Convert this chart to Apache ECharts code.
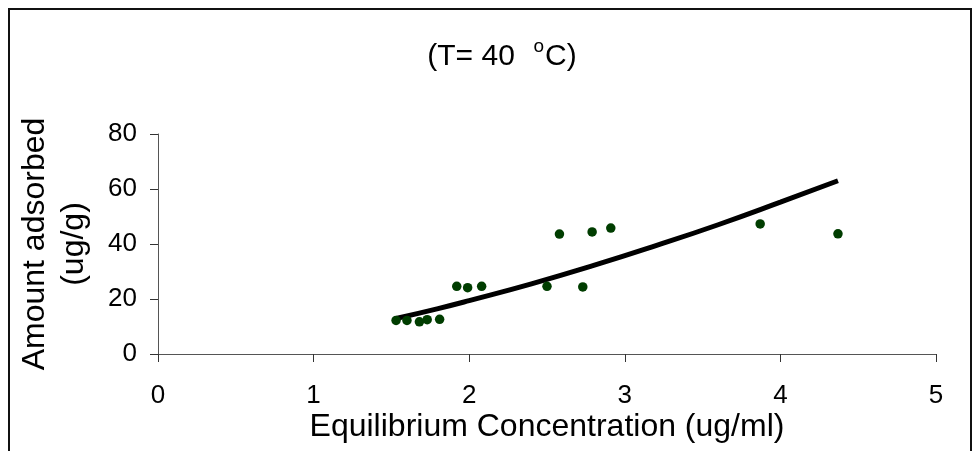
<!DOCTYPE html>
<html>
<head>
<meta charset="utf-8">
<script src="https://cdn.jsdelivr.net/npm/echarts@6/dist/echarts.min.js"></script>
<style>
  html, body { margin: 0; padding: 0; background: #fff; }
  #chart { width: 974px; height: 451px; }
</style>
</head>
<body>
<div id="chart"></div>
<script>
// measured points (Ce, amount adsorbed)
var ceValues = [1.53, 1.60, 1.68, 1.73, 1.81, 1.92, 1.99, 2.08, 2.50, 2.58, 2.73, 2.79, 2.91, 3.87, 4.37];
var qValues = [12.2, 12.2, 11.7, 12.5, 12.6, 24.6, 24.1, 24.6, 24.6, 43.6, 24.4, 44.4, 45.8, 47.3, 43.7];
// trend line
var trendX = [1.53, 1.8, 2.0, 2.4, 2.8, 3.2, 3.6, 4.0, 4.37];
var trendY = [12.9, 16.5, 19.4, 25.5, 32.2, 39.4, 47.0, 55.2, 63.0];
var xTicks = [0, 1, 2, 3, 4, 5];
var yTicks = [0, 20, 40, 60, 80];

var font = 'Liberation Sans';
var chart = echarts.init(document.getElementById('chart'));

var points = [];
for (var i = 0; i < ceValues.length; i++) {
  points.push([ceValues[i], qValues[i]]);
}
var trend = [];
for (var j = 0; j < trendX.length; j++) {
  trend.push([trendX[j], trendY[j]]);
}

var option = {
  backgroundColor: '#fff',
  animation: false,
  title: {
    text: '{m|(T= 40  }{s|o}{m|C)}',
    left: 497,
    top: 33,
    textAlign: 'center',
    textStyle: {
      fontFamily: font,
      fontWeight: 'normal',
      rich: {
        m: { fontFamily: font, fontWeight: 'normal', fontSize: 30, color: '#000', lineHeight: 34, verticalAlign: 'bottom' },
        s: { fontFamily: font, fontWeight: 'normal', fontSize: 19, color: '#000', lineHeight: 19, verticalAlign: 'bottom', padding: [0, 1, 16, 2] }
      }
    }
  },
  grid: { left: 158, right: 38, top: 134, bottom: 97 },
  xAxis: {
    type: 'value',
    min: xTicks[0],
    max: xTicks[xTicks.length - 1],
    interval: 1,
    name: 'Equilibrium Concentration (ug/ml)',
    nameLocation: 'middle',
    nameGap: 57,
    nameTextStyle: { fontFamily: font, fontSize: 32, color: '#000' },
    axisLine: { lineStyle: { color: '#555', width: 1 } },
    axisTick: { length: 8, lineStyle: { color: '#333' } },
    axisLabel: { fontFamily: font, fontSize: 26, color: '#000', margin: 29 },
    splitLine: { show: false }
  },
  yAxis: {
    type: 'value',
    min: yTicks[0],
    max: yTicks[yTicks.length - 1],
    interval: 20,
    name: 'Amount adsorbed\n(ug/g)',
    nameLocation: 'middle',
    nameRotate: 90,
    nameGap: 64,
    nameTextStyle: { fontFamily: font, fontSize: 32, color: '#000', lineHeight: 39 },
    axisLine: { show: true, lineStyle: { color: '#555', width: 1 } },
    axisTick: { show: true, length: 8, lineStyle: { color: '#333' } },
    axisLabel: { fontFamily: font, fontSize: 26, color: '#000', margin: 21 },
    splitLine: { show: false }
  },
  series: [
    {
      type: 'line',
      data: trend,
      smooth: true,
      symbol: 'none',
      lineStyle: { color: '#000', width: 5 },
      z: 2
    },
    {
      type: 'scatter',
      data: points,
      symbol: 'circle',
      symbolSize: 9.5,
      itemStyle: { color: '#003d00', opacity: 1 },
      z: 3
    }
  ],
  graphic: [
    {
      type: 'rect',
      shape: { x: 9, y: 9, width: 962, height: 600 },
      style: { fill: 'none', stroke: '#111', lineWidth: 2 },
      silent: true
    }
  ]
};

chart.setOption(option);
</script>
</body>
</html>
